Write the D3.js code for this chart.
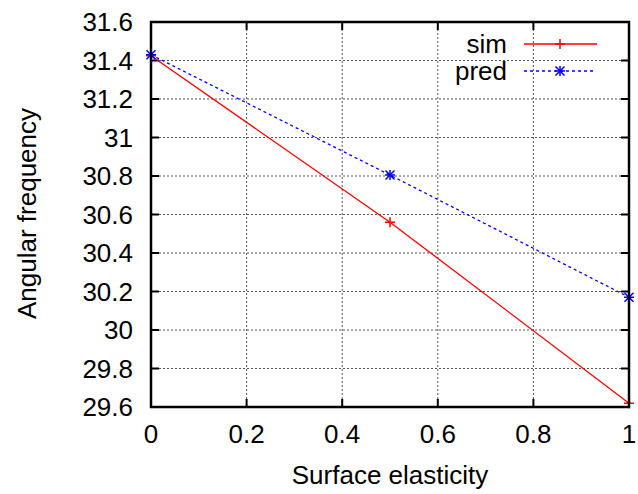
<!DOCTYPE html>
<html>
<head>
<meta charset="utf-8">
<script src="https://cdn.jsdelivr.net/npm/d3@7"></script>
<style>
  body { margin: 0; background: #fff; }
  text { font-family: "Liberation Sans", Arial, sans-serif; fill: #000; }
</style>
</head>
<body>
<div id="chart"></div>
<script>
// data
var elasticity = [0, 0.5, 1];
var simFreq = [31.425, 30.56, 29.62];
var predFreq = [31.43, 30.805, 30.17];
var xTicks = [0, 0.2, 0.4, 0.6, 0.8, 1];
var yTicks = [29.6, 29.8, 30, 30.2, 30.4, 30.6, 30.8, 31, 31.2, 31.4, 31.6];

var width = 638, height = 494;
var margin = {left: 151, right: 9, top: 22, bottom: 87};
var fs = '26px';

var svg = d3.select('#chart')
  .append('svg')
    .attr('width', width)
    .attr('height', height);

var x = d3.scaleLinear().domain([0, 1]).range([margin.left, width - margin.right]);
var y = d3.scaleLinear().domain([29.6, 31.6]).range([height - margin.bottom, margin.top]);

// grid
var grid = svg.append('g')
  .attr('stroke', '#555')
  .attr('stroke-width', 1)
  .attr('stroke-dasharray', '2,2');
grid.selectAll('.gx')
  .data(xTicks.slice(1, -1))
  .enter().append('line')
    .attr('x1', function(d) { return x(d); })
    .attr('x2', function(d) { return x(d); })
    .attr('y1', y.range()[0])
    .attr('y2', y.range()[1]);
grid.selectAll('.gy')
  .data(yTicks.slice(1, -1))
  .enter().append('line')
    .attr('x1', x.range()[0])
    .attr('x2', x.range()[1])
    .attr('y1', function(d) { return y(d); })
    .attr('y2', function(d) { return y(d); });

// ticks on all four sides, pointing in
var tl = 8;
var ticks = svg.append('g').attr('stroke', '#000').attr('stroke-width', 2);
xTicks.forEach(function(d) {
  ticks.append('line').attr('x1', x(d)).attr('x2', x(d)).attr('y1', y(29.6)).attr('y2', y(29.6) - tl);
  ticks.append('line').attr('x1', x(d)).attr('x2', x(d)).attr('y1', y(31.6)).attr('y2', y(31.6) + tl);
});
yTicks.forEach(function(d) {
  ticks.append('line').attr('x1', x(0)).attr('x2', x(0) + tl).attr('y1', y(d)).attr('y2', y(d));
  ticks.append('line').attr('x1', x(1)).attr('x2', x(1) - tl).attr('y1', y(d)).attr('y2', y(d));
});

// tick labels
svg.selectAll('.xl')
  .data(xTicks)
  .enter().append('text')
    .attr('x', function(d) { return x(d); })
    .attr('y', y(29.6) + 36)
    .attr('text-anchor', 'middle')
    .style('font-size', fs)
    .text(function(d) { return d; });
svg.selectAll('.yl')
  .data(yTicks)
  .enter().append('text')
    .attr('x', x(0) - 18)
    .attr('y', function(d) { return y(d) + 9; })
    .attr('text-anchor', 'end')
    .style('font-size', fs)
    .text(function(d) { return d; });

// axis titles
svg.append('text')
  .attr('x', (x(0) + x(1)) / 2)
  .attr('y', 484)
  .attr('text-anchor', 'middle')
  .style('font-size', fs)
  .text('Surface elasticity');
svg.append('text')
  .attr('transform', 'translate(36,' + (y(30.6) - 1) + ') rotate(-90)')
  .attr('text-anchor', 'middle')
  .style('font-size', fs)
  .text('Angular frequency');

// series
var line = d3.line()
  .x(function(d) { return x(d[0]); })
  .y(function(d) { return y(d[1]); });

var sim = d3.zip(elasticity, simFreq);
var pred = d3.zip(elasticity, predFreq);

svg.append('path')
  .attr('d', line(sim))
  .attr('fill', 'none')
  .attr('stroke', '#ff0000')
  .attr('stroke-width', 1.3);
svg.append('path')
  .attr('d', line(pred))
  .attr('fill', 'none')
  .attr('stroke', '#0000ff')
  .attr('stroke-width', 1.3)
  .attr('stroke-dasharray', '3,3');

function plus(g, cx, cy, col) {
  g.append('path')
    .attr('d', 'M' + (cx - 5) + ',' + cy + 'H' + (cx + 5) + 'M' + cx + ',' + (cy - 5) + 'V' + (cy + 5))
    .attr('stroke', col).attr('stroke-width', 1.5).attr('fill', 'none');
}
function star(g, cx, cy, col) {
  plus(g, cx, cy, col);
  g.append('path')
    .attr('d', 'M' + (cx - 4.5) + ',' + (cy - 4.5) + 'L' + (cx + 4.5) + ',' + (cy + 4.5) + 'M' + (cx - 4.5) + ',' + (cy + 4.5) + 'L' + (cx + 4.5) + ',' + (cy - 4.5))
    .attr('stroke', col).attr('stroke-width', 1.5).attr('fill', 'none');
}

var marks = svg.append('g');
sim.forEach(function(d) { plus(marks, x(d[0]), y(d[1]), '#ff0000'); });
pred.forEach(function(d) { star(marks, x(d[0]), y(d[1]), '#0000ff'); });

// frame
svg.append('rect')
  .attr('x', x(0)).attr('y', y(31.6))
  .attr('width', x(1) - x(0)).attr('height', y(29.6) - y(31.6))
  .attr('fill', 'none').attr('stroke', '#000').attr('stroke-width', 2.5);

// legend
var legend = svg.append('g');
var names = ['sim', 'pred'];
names.forEach(function(n, i) {
  var ly = 44 + i * 27;
  legend.append('text')
    .attr('x', 507).attr('y', ly + 9)
    .attr('text-anchor', 'end')
    .style('font-size', fs)
    .text(n);
  legend.append('line')
    .attr('x1', 524).attr('x2', i === 0 ? 597 : 594).attr('y1', ly).attr('y2', ly)
    .attr('stroke', i === 0 ? '#ff0000' : '#0000ff')
    .attr('stroke-width', 1.3)
    .attr('stroke-dasharray', i === 0 ? null : '3,3');
  if (i === 0) plus(legend, 560, ly, '#ff0000');
  else star(legend, 560, ly, '#0000ff');
});
</script>
</body>
</html>
